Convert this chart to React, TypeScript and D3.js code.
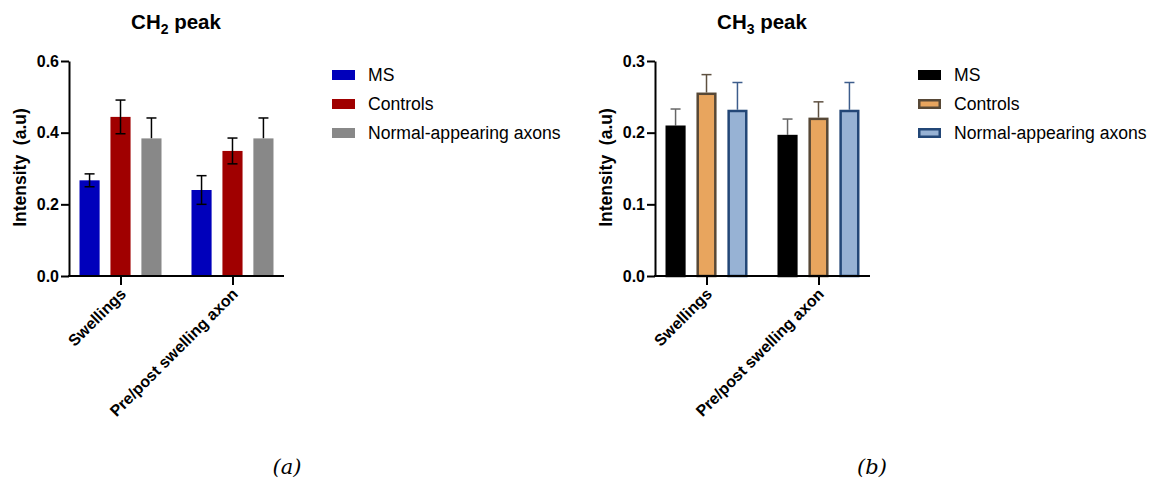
import React, { useRef, useEffect } from "react";
import * as d3 from "d3";

const categories = ["Swellings", "Pre/post swelling axon"];
const seriesNames = ["MS", "Controls", "Normal-appearing axons"];

// CH2 peak
const ch2Means = [
  [0.267, 0.240],
  [0.444, 0.349],
  [0.384, 0.384],
];
const ch2Errors = [
  [0.018, 0.040],
  [0.047, 0.036],
  [0.057, 0.057],
];
const ch2Ticks = [0, 0.2, 0.4, 0.6];

// CH3 peak
const ch3Means = [
  [0.210, 0.197],
  [0.256, 0.221],
  [0.232, 0.232],
];
const ch3Errors = [
  [0.023, 0.022],
  [0.025, 0.022],
  [0.038, 0.038],
];
const ch3Ticks = [0, 0.1, 0.2, 0.3];

const FONT = "'Liberation Sans', Arial, sans-serif";

const panelA = {
  offsetX: 0,
  title: "2",
  means: ch2Means,
  errors: ch2Errors,
  ticks: ch2Ticks,
  fills: ["#0000bb", "#a00000", "#888888"],
  strokes: ["none", "none", "none"],
  whisker: ["#000", "#000", "#000"],
  both: [true, true, false],
  caption: "(a)",
  captionX: 287,
};

const panelB = {
  offsetX: 586,
  title: "3",
  means: ch3Means,
  errors: ch3Errors,
  ticks: ch3Ticks,
  fills: ["#000000", "#e8a55e", "#97b2d4"],
  strokes: ["#000000", "#574836", "#234777"],
  whisker: ["#666666", "#5e5040", "#3d5d8c"],
  both: [false, false, false],
  caption: "(b)",
  captionX: 872,
};

const drawPanel = (svg, p) => {
  const left = 69;
  const right = 284;
  const top = 61;
  const bottom = 276;

  const g = svg.append("g").attr("transform", `translate(${p.offsetX},0)`);

  const y = d3.scaleLinear()
    .domain([0, p.ticks[p.ticks.length - 1]])
    .range([bottom, top]);

  const x = d3.scalePoint()
    .domain(categories)
    .range([left, right])
    .padding(0.46);

  const sub = d3.scaleBand()
    .domain(seriesNames)
    .range([-41, 41])
    .paddingInner(0.35);

  // title
  const title = g.append("text")
    .attr("x", 176)
    .attr("y", 29)
    .attr("text-anchor", "middle")
    .style("font-family", FONT)
    .style("font-weight", "bold")
    .style("font-size", "20.5px");
  title.append("tspan").text("CH");
  title.append("tspan").attr("dy", 5).style("font-size", "14px").text(p.title);
  title.append("tspan").attr("dy", -5).text(" peak");

  // bars
  seriesNames.forEach((s, si) => {
    categories.forEach((c, ci) => {
      const v = p.means[si][ci];
      const e = p.errors[si][ci];
      const bx = x(c) + sub(s);
      const bw = sub.bandwidth();
      const cx = bx + bw / 2;
      const sw = p.strokes[si] === "none" ? 0 : 2.5;

      const lo = p.both[si] ? v - e : v;
      g.append("line")
        .attr("x1", cx).attr("x2", cx)
        .attr("y1", y(v + e)).attr("y2", y(lo))
        .attr("stroke", p.whisker[si]).attr("stroke-width", 1.5);

      g.append("rect")
        .attr("x", bx + sw / 2)
        .attr("y", y(v) + sw / 2)
        .attr("width", bw - sw)
        .attr("height", y(0) - y(v) - sw / 2)
        .attr("fill", p.fills[si])
        .attr("stroke", p.strokes[si])
        .attr("stroke-width", sw);

      if (p.both[si]) {
        g.append("line")
          .attr("x1", cx).attr("x2", cx)
          .attr("y1", y(v)).attr("y2", y(v - e))
          .attr("stroke", p.whisker[si]).attr("stroke-width", 1.5);
        g.append("line")
          .attr("x1", cx - 5).attr("x2", cx + 5)
          .attr("y1", y(v - e)).attr("y2", y(v - e))
          .attr("stroke", p.whisker[si]).attr("stroke-width", 1.5);
      }
      g.append("line")
        .attr("x1", cx - 5).attr("x2", cx + 5)
        .attr("y1", y(v + e)).attr("y2", y(v + e))
        .attr("stroke", p.whisker[si]).attr("stroke-width", 1.5);
    });
  });

  // y axis
  const yAxis = g.append("g")
    .attr("transform", `translate(${left},0)`)
    .call(d3.axisLeft(y).tickValues(p.ticks).tickFormat(d3.format(".1f")).tickSize(8).tickPadding(2).tickSizeOuter(0));
  yAxis.select(".domain").attr("stroke", "#000").attr("stroke-width", 2);
  yAxis.selectAll(".tick line").attr("stroke", "#000").attr("stroke-width", 2);
  yAxis.selectAll("text")
    .style("font-family", FONT)
    .style("font-weight", "bold")
    .style("font-size", "16px")
    .attr("fill", "#000");

  // x axis
  const xAxis = g.append("g")
    .attr("transform", `translate(0,${bottom})`)
    .call(d3.axisBottom(x).tickSize(9).tickSizeOuter(0));
  xAxis.select(".domain").attr("d", `M${left - 1},0H${right}`).attr("stroke", "#000").attr("stroke-width", 2);
  xAxis.selectAll(".tick line").attr("stroke", "#000").attr("stroke-width", 2);
  xAxis.selectAll("text")
    .style("font-family", FONT)
    .style("font-weight", "bold")
    .style("font-size", "16px")
    .attr("fill", "#000")
    .attr("text-anchor", "end")
    .attr("dy", null)
    .attr("y", 0)
    .attr("transform", "translate(6,19) rotate(-45)");

  // y label
  g.append("text")
    .attr("transform", `translate(26,${(top + bottom) / 2 - 1}) rotate(-90)`)
    .attr("text-anchor", "middle")
    .style("font-family", FONT)
    .style("font-weight", "bold")
    .style("font-size", "17.5px")
    .style("white-space", "pre")
    .text("Intensity  (a.u)");

  // legend
  const legend = g.append("g").attr("transform", "translate(332,75)");
  seriesNames.forEach((s, si) => {
    const row = legend.append("g").attr("transform", `translate(0,${si * 29})`);
    const sw = p.strokes[si] === "none" ? 0 : 2.5;
    row.append("rect")
      .attr("x", sw / 2).attr("y", -5 + sw / 2)
      .attr("width", 23 - sw).attr("height", 10 - sw)
      .attr("fill", p.fills[si])
      .attr("stroke", p.strokes[si])
      .attr("stroke-width", sw);
    row.append("text")
      .attr("x", 36)
      .attr("y", 0)
      .attr("dy", "0.35em")
      .style("font-family", FONT)
      .style("font-size", "17.6px")
      .text(s);
  });

  // caption
  svg.append("text")
    .attr("x", p.captionX)
    .attr("y", 474)
    .attr("text-anchor", "middle")
    .style("font-family", "'DejaVu Serif', serif")
    .style("font-style", "italic")
    .style("font-size", "21px")
    .text(p.caption);
};

const App = () => {
  const svgRef = useRef(null);

  useEffect(() => {
    const svg = d3.select(svgRef.current);
    svg.selectAll("*").remove();
    drawPanel(svg, panelA);
    drawPanel(svg, panelB);
  }, []);

  return (
    <svg
      ref={svgRef}
      width={1151}
      height={481}
      style={{ position: "absolute", left: 0, top: 0, background: "#fff" }}
    />
  );
};

export default App;
